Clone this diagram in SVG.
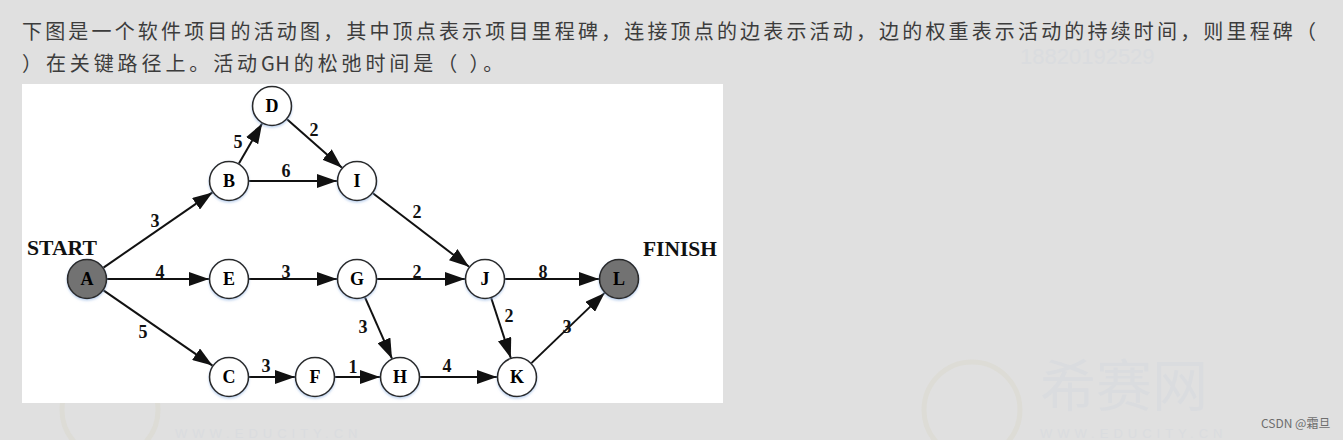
<svg xmlns="http://www.w3.org/2000/svg" width="1343" height="440" viewBox="0 0 1343 440">
  <style>
    .q { font-family: "Noto Sans CJK SC", "Noto Sans", sans-serif; font-size: 20px; fill: #3c3c3c; }
    .wm { font-family: "Noto Sans CJK SC", "Noto Sans", sans-serif; fill: #dadcdf; }
    .wmt { font-family: "Liberation Sans", "Noto Sans", sans-serif; fill: #dadcdf; }
    .node circle { fill: #ffffff; stroke: #2a2a2a; stroke-width: 1.6; filter: url(#glow); }
    .node.term circle { fill: #727272; }
    .lbl { font-family: "Liberation Serif", "Times New Roman", serif; font-weight: bold; font-size: 18px; fill: #000; text-anchor: middle; }
    .w { font-family: "Liberation Serif", "Times New Roman", serif; font-weight: bold; font-size: 18px; fill: #111; text-anchor: middle; }
    .cap { font-family: "Liberation Serif", "Times New Roman", serif; font-weight: bold; font-size: 20px; fill: #111; }
    .edges line { stroke: #111; stroke-width: 2; marker-end: url(#arr); }
  </style>
  <defs>
    <marker id="arr" viewBox="0 0 20 14" refX="20" refY="7" markerWidth="20" markerHeight="14" orient="auto" markerUnits="userSpaceOnUse">
      <path d="M0,0 L20,7 L0,14 z" fill="#111"/>
    </marker>
    <filter id="glow" x="-30%" y="-30%" width="160%" height="170%">
      <feDropShadow dx="0" dy="1.5" stdDeviation="1.3" flood-color="#8fb0e0" flood-opacity="0.55"/>
    </filter>
  </defs>

  <rect x="0" y="0" width="1343" height="440" fill="#e0e0e0"/>

  <!-- faint watermarks -->
  <g id="watermarks">
    <circle cx="972" cy="410" r="48" fill="none" stroke="#dddcd6" stroke-width="5"/>
    <text class="wm" x="1040" y="406" font-size="56">希赛网</text>
    <text class="wmt" x="1040" y="438" font-size="13" letter-spacing="5">WWW.EDUCITY.CN</text>
    <circle cx="110" cy="410" r="48" fill="none" stroke="#dddcd6" stroke-width="5"/>
    <text class="wmt" x="175" y="438" font-size="13" letter-spacing="5">WWW.EDUCITY.CN</text>
    <text class="wmt" x="1020" y="64" font-size="22">18820192529</text>
  </g>

  <text class="q" x="22" y="39" textLength="1294" lengthAdjust="spacing">下图是一个软件项目的活动图，其中顶点表示项目里程碑，连接顶点的边表示活动，边的权重表示活动的持续时间，则里程碑（</text>
  <text class="q" x="22" y="71" letter-spacing="3.9">）在关键路径上。活动<tspan letter-spacing="0.5">G</tspan>H的松弛时间是（ ）。</text>

  <rect x="22" y="84" width="701" height="319" fill="#ffffff"/>

  <g id="connectors" class="edges">
    <line x1="103.5" y1="267.6" x2="212.5" y2="192.4"/>
    <line x1="238.9" y1="163.6" x2="262.1" y2="123.4"/>
    <line x1="287" y1="119.2" x2="342" y2="167.8"/>
    <line x1="249" y1="181" x2="337" y2="181"/>
    <line x1="372.9" y1="193.2" x2="469.1" y2="266.8"/>
    <line x1="107" y1="279" x2="209" y2="279"/>
    <line x1="249" y1="279" x2="337" y2="279"/>
    <line x1="377" y1="279" x2="465" y2="279"/>
    <line x1="505" y1="279" x2="599" y2="279"/>
    <line x1="103.5" y1="290.4" x2="212.5" y2="365.6"/>
    <line x1="365" y1="297.3" x2="392" y2="358.7"/>
    <line x1="491.2" y1="298" x2="510.8" y2="358"/>
    <line x1="249" y1="377" x2="295" y2="377"/>
    <line x1="335" y1="377" x2="380" y2="377"/>
    <line x1="420" y1="377" x2="497" y2="377"/>
    <line x1="531.4" y1="363.1" x2="604.6" y2="292.9"/>
  </g>

  <g id="edge-labels">
    <text class="w" x="155" y="227">3</text>
    <text class="w" x="238" y="148">5</text>
    <text class="w" x="314" y="136">2</text>
    <text class="w" x="286" y="177">6</text>
    <text class="w" x="417" y="218">2</text>
    <text class="w" x="160" y="278">4</text>
    <text class="w" x="286" y="278">3</text>
    <text class="w" x="417" y="278">2</text>
    <text class="w" x="543" y="278">8</text>
    <text class="w" x="143" y="338">5</text>
    <text class="w" x="363" y="333">3</text>
    <text class="w" x="509" y="322">2</text>
    <text class="w" x="266" y="372">3</text>
    <text class="w" x="353" y="373">1</text>
    <text class="w" x="447" y="372">4</text>
    <text class="w" x="567" y="333">3</text>
  </g>

  <text class="cap" x="27" y="255" textLength="70" lengthAdjust="spacingAndGlyphs">START</text>
  <text class="cap" x="643" y="256" textLength="74" lengthAdjust="spacingAndGlyphs">FINISH</text>

  <g id="node-A" class="node term"><circle cx="87" cy="279" r="19.5"/><text class="lbl" x="87" y="285">A</text></g>
  <g id="node-B" class="node"><circle cx="229" cy="181" r="19.5"/><text class="lbl" x="229" y="187">B</text></g>
  <g id="node-D" class="node"><circle cx="272" cy="106" r="19.5"/><text class="lbl" x="272" y="112">D</text></g>
  <g id="node-I" class="node"><circle cx="357" cy="181" r="19.5"/><text class="lbl" x="357" y="187">I</text></g>
  <g id="node-E" class="node"><circle cx="229" cy="279" r="19.5"/><text class="lbl" x="229" y="285">E</text></g>
  <g id="node-G" class="node"><circle cx="357" cy="279" r="19.5"/><text class="lbl" x="357" y="285">G</text></g>
  <g id="node-J" class="node"><circle cx="485" cy="279" r="19.5"/><text class="lbl" x="485" y="285">J</text></g>
  <g id="node-L" class="node term"><circle cx="619" cy="279" r="19.5"/><text class="lbl" x="619" y="285">L</text></g>
  <g id="node-C" class="node"><circle cx="229" cy="377" r="19.5"/><text class="lbl" x="229" y="383">C</text></g>
  <g id="node-F" class="node"><circle cx="315" cy="377" r="19.5"/><text class="lbl" x="315" y="383">F</text></g>
  <g id="node-H" class="node"><circle cx="400" cy="377" r="19.5"/><text class="lbl" x="400" y="383">H</text></g>
  <g id="node-K" class="node"><circle cx="517" cy="377" r="19.5"/><text class="lbl" x="517" y="383">K</text></g>

  <text x="1261" y="428" font-family="'Noto Sans CJK SC', 'Liberation Sans', sans-serif" font-size="12" fill="#6e6e6e">CSDN @霜旦</text>
</svg>
